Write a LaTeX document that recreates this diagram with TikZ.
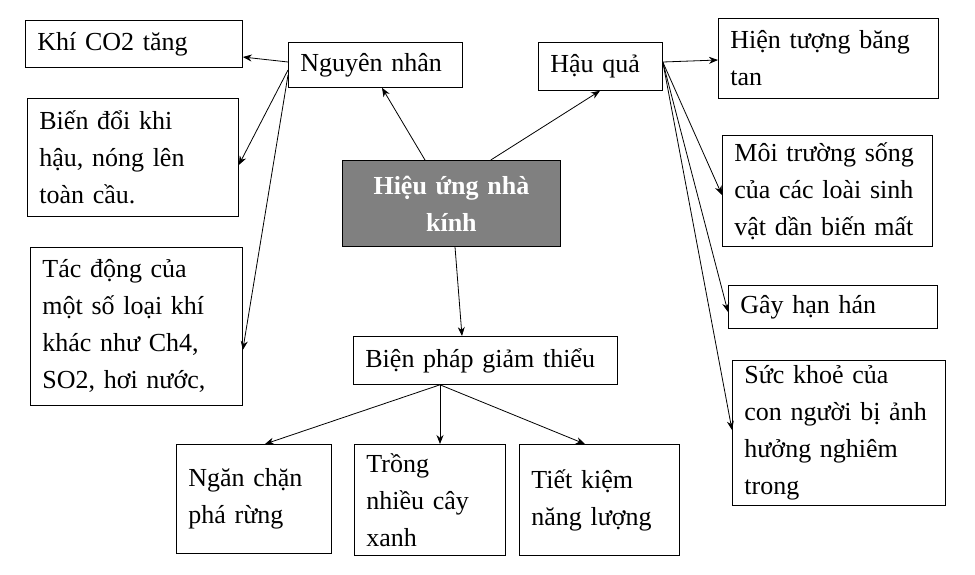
\documentclass[tikz,border=0pt]{standalone}
\usepackage{fontspec}
\setmainfont{Liberation Serif}
\usetikzlibrary{arrows.meta}
\tikzset{
  box/.style={draw, line width=0.8pt, anchor=north west, align=left, inner xsep=12pt, inner ysep=4pt,
    text width=#1, font=\fontsize{26}{37}\selectfont},
  arr/.style={-{Stealth[length=9pt,width=7pt]}, line width=0.8pt}
}
\begin{document}
\begin{tikzpicture}[x=1pt,y=-1pt]
  \useasboundingbox (0,0) rectangle (975,574);

  % centre
  \node[box=194pt, fill=black!50, text=white, align=center, minimum height=86pt,
    font=\fontsize{26}{37}\selectfont\bfseries] (hieuung) at (342,160) {Hiệu ứng nhà\\kính};

  % nguyen nhan
  \node[box=150pt, minimum height=45pt] (nguyennhan) at (288,42) {Nguyên nhân};
  \node[box=193pt, minimum height=47pt] (co2) at (25,20) {Khí CO2 tăng};
  \node[box=187pt, minimum height=118pt] (biendoi) at (27,98) {Biến đổi khi\\hậu, nóng lên\\toàn cầu.};
  \node[box=188pt, minimum height=158pt] (tacdong) at (30,247) {Tác động của\\một số loại khí\\khác như Ch4,\\SO2, hơi nước,};

  % hau qua
  \node[box=100pt, minimum height=48pt] (hauqua) at (538,42) {Hậu quả};
  \node[box=196pt, minimum height=80pt] (bangtan) at (718,18) {Hiện tượng băng\\tan};
  \node[box=186pt, minimum height=111pt] (moitruong) at (722,135) {Môi trường sống\\của các loài sinh\\vật dần biến mất};
  \node[box=185pt, minimum height=43pt] (hanhan) at (728,285) {Gây hạn hán};
  \node[box=189pt, minimum height=145pt] (suckhoe) at (732,360) {Sức khoẻ của\\con người bị ảnh\\hưởng nghiêm\\trong};

  % bien phap
  \node[box=240pt, minimum height=48pt] (bienphap) at (353,336) {Biện pháp giảm thiểu};
  \node[box=131pt, minimum height=109pt] (nganchan) at (176,444) {Ngăn chặn\\phá rừng};
  \node[box=127pt, minimum height=111pt] (trong) at (354,444) {Trồng\\nhiều cây\\xanh};
  \node[box=136pt, minimum height=111pt] (tietkiem) at (519,444) {Tiết kiệm\\năng lượng};

  % arrows
  \draw[arr] ([xshift=83pt]hieuung.north west) -- ([xshift=94pt]nguyennhan.south west);
  \draw[arr] ([xshift=-70pt]hieuung.north east) -- ([xshift=62pt]hauqua.south west);
  \draw[arr] ([xshift=113pt]hieuung.south west) -- ([xshift=109pt]bienphap.north west);

  \draw[arr] ([yshift=-20pt]nguyennhan.north west) -- ([yshift=-37pt]co2.north east);
  \draw[arr] ([yshift=-28pt]nguyennhan.north west) -- ([yshift=-67pt]biendoi.north east);
  \draw[arr] ([yshift=-33pt]nguyennhan.north west) -- ([yshift=-103pt]tacdong.north east);

  \draw[arr] ([yshift=-20pt]hauqua.north east) -- ([yshift=-42pt]bangtan.north west);
  \draw[arr] ([yshift=-20pt]hauqua.north east) -- ([yshift=-60pt]moitruong.north west);
  \draw[arr] ([yshift=-20pt]hauqua.north east) -- ([yshift=-27pt]hanhan.north west);
  \draw[arr] ([yshift=-20pt]hauqua.north east) -- ([yshift=-70pt]suckhoe.north west);

  \draw[arr] ([xshift=87pt]bienphap.south west) -- ([xshift=89pt]nganchan.north west);
  \draw[arr] ([xshift=87pt]bienphap.south west) -- ([xshift=86pt]trong.north west);
  \draw[arr] ([xshift=87pt]bienphap.south west) -- ([xshift=66pt]tietkiem.north west);
\end{tikzpicture}
\end{document}
